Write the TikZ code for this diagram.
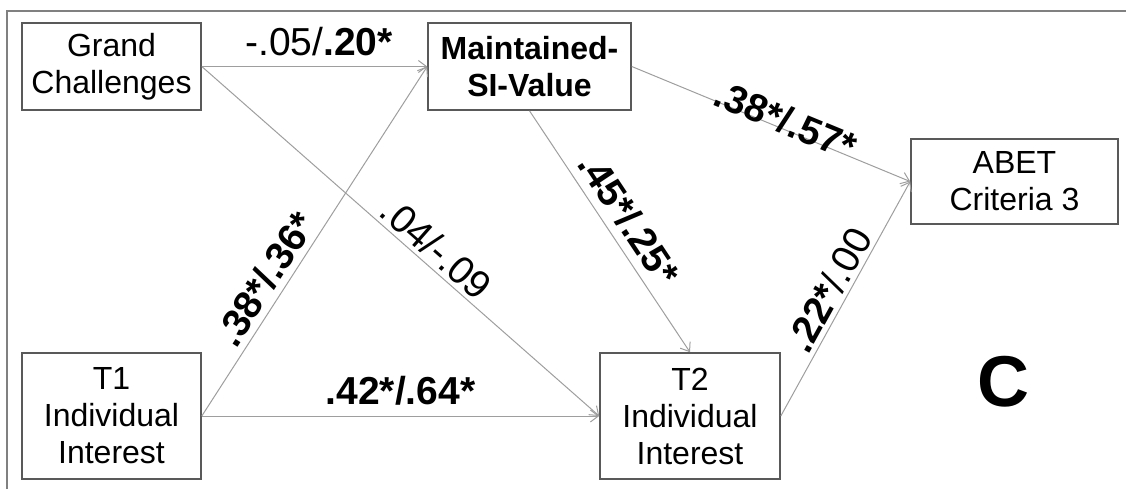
\documentclass[tikz,border=0pt]{standalone}
\usepackage{fontspec}
\setmainfont{Liberation Sans}
\usetikzlibrary{arrows.meta}

\begin{document}
\begin{tikzpicture}[x=0.5pt,y=-0.5pt,
  var/.style={draw=black!65,line width=0.8pt,align=center,inner sep=0pt,
    font=\fontsize{16}{18.5}\selectfont},
  effect/.style={draw=black!38,line width=0.5pt,
    -{Straight Barb[length=4pt,width=6pt]}},
  coef/.style={font=\fontsize{19.5}{21}\selectfont,sloped,inner sep=1pt}]
\useasboundingbox (0,0) rectangle (1126,489);
% frame edges
\draw[black!50,line width=1pt] (7,489) -- (7,11) -- (1126,11);
% variables
\node[var,minimum width=89.5pt,minimum height=43.5pt] (gc) at (111.5,66.5)
  {Grand\\Challenges};
\node[var,minimum width=101.5pt,minimum height=43.5pt] (msv) at (529.5,66.5)
  {\bfseries Maintained-\\\bfseries SI-Value};
\node[var,minimum width=103.5pt,minimum height=42.5pt] (abet) at (1014.5,181.5)
  {ABET\\Criteria 3};
\node[var,minimum width=89.5pt,minimum height=63pt] (tone) at (111.5,416)
  {T1\\Individual\\Interest};
\node[var,minimum width=90pt,minimum height=63pt] (ttwo) at (690,416)
  {T2\\Individual\\Interest};
% paths
\draw[effect] (gc.east) -- node[coef,pos=0.52,above=4pt] {-.05/\textbf{.20*}} (msv.west);
\draw[effect] (gc.east) -- node[coef,pos=0.56,above=1pt] {.04/-.09} (ttwo.west);
\draw[effect] (tone.east) -- node[coef,pos=0.36,above=2pt] {\bfseries .38*/.36*} (msv.west);
\draw[effect] (tone.east) -- node[coef,above=4pt] {\bfseries .42*/.64*} (ttwo.west);
\draw[effect] (msv.south) -- node[coef,pos=0.5,above=3pt] {\bfseries .45*/.25*} (ttwo.north);
\draw[effect] (msv.east) -- node[coef,pos=0.54,above=-4pt] {\bfseries .38*/.57*} (abet.west);
\draw[effect] (ttwo.east) -- node[coef,pos=0.5,above=1pt] {\textbf{.22*}/.00} (abet.west);
\node[font=\fontsize{36}{36}\selectfont\bfseries] (panel) at (1003,382) {C};
\end{tikzpicture}
\end{document}
